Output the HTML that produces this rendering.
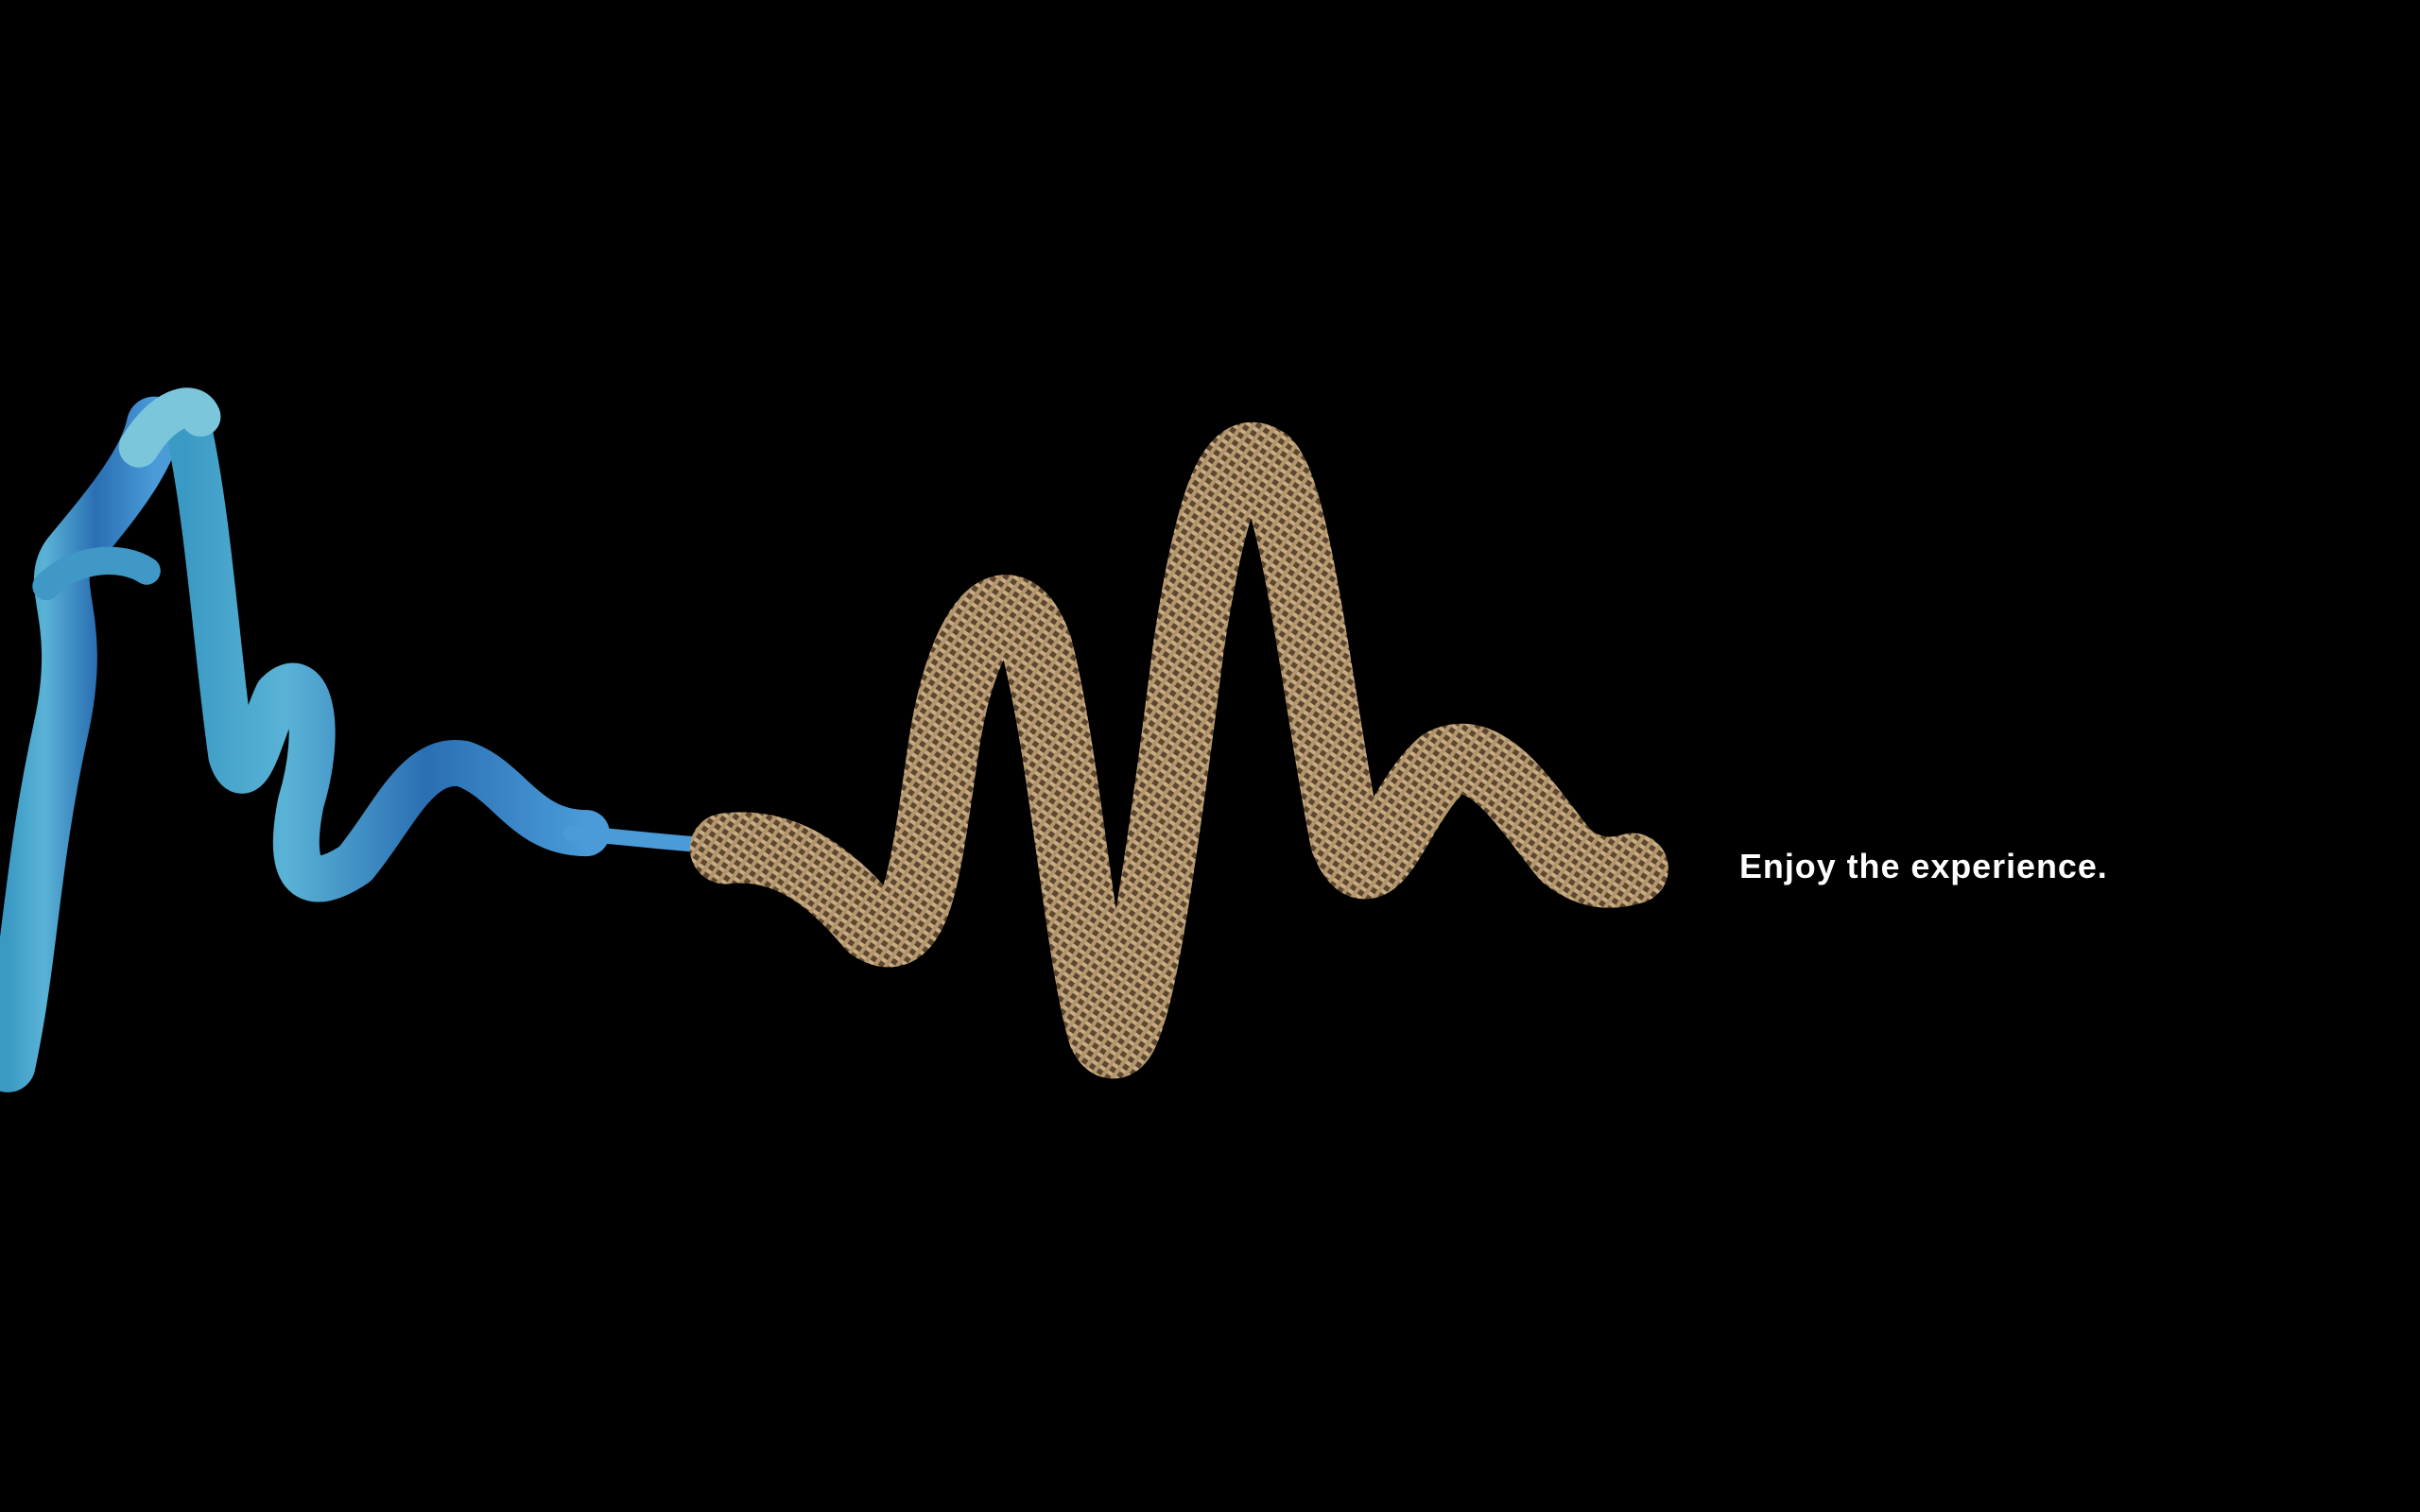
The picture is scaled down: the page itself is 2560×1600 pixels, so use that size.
<!DOCTYPE html>
<html><head><meta charset="utf-8"><title>Enjoy the experience</title>
<style>
html,body{margin:0;padding:0;background:#000;width:2560px;height:1600px;overflow:hidden}
svg{display:block}
</style></head>
<body>
<svg width="2560" height="1600" viewBox="0 0 1568 980" xmlns="http://www.w3.org/2000/svg">
<defs>
<linearGradient id="blueG" x1="0" y1="0" x2="1" y2="0">
<stop offset="0" stop-color="#3b9ac4"/><stop offset="0.25" stop-color="#5ab3d6"/><stop offset="0.6" stop-color="#2a6fb3"/><stop offset="1" stop-color="#4a9bd8"/>
</linearGradient>
<pattern id="mesh" width="6" height="6" patternUnits="userSpaceOnUse" patternTransform="rotate(35)">
<rect width="6" height="6" fill="#5e4730"/>
<rect width="6" height="2.5" fill="#c9ad85"/>
<rect width="2.5" height="6" fill="#b3966c"/>
</pattern>
</defs>
<rect width="1568" height="980" fill="#000"/>
<g fill="none" stroke-linecap="round" stroke-linejoin="round">
<path d="M5,690 C20,620 20,560 40,470 C55,400 30,380 45,360 C70,330 95,300 100,275" stroke="url(#blueG)" stroke-width="36"/>
<path d="M120,268 C135,330 140,420 150,490 C160,520 170,470 180,450 C200,430 210,470 195,520 C185,570 200,580 230,560 C255,530 270,490 300,495 C330,505 340,540 380,540" stroke="url(#blueG)" stroke-width="30"/>
<path d="M370,540 C400,542 420,545 448,547" stroke="#4a9bd8" stroke-width="10"/>
<path d="M90,290 C105,265 125,258 130,270" stroke="#7cc6dc" stroke-width="26"/>
<path d="M30,380 C50,360 80,360 95,370" stroke="#3f98c6" stroke-width="18"/>
</g>
<g fill="none" stroke-linecap="round" stroke-linejoin="round">
<path d="M470,550 C510,545 540,570 565,600 C595,620 600,560 612,480 C625,400 655,370 672,420 C690,490 700,620 715,670 C730,700 745,620 770,420 C785,320 800,285 820,300 C840,320 855,460 872,545 C890,590 905,520 935,495 C965,480 990,525 1015,555 C1035,570 1050,565 1058,563" stroke="url(#mesh)" stroke-width="46"/>
</g>
<text x="1127" y="569" fill="#ffffff" font-family="'Liberation Sans', sans-serif" font-size="22" font-weight="bold" letter-spacing="0.6">Enjoy the experience.</text>
</svg>
</body></html>
